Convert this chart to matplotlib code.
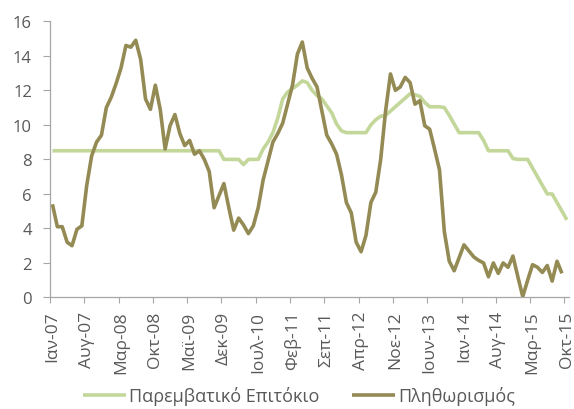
import matplotlib
matplotlib.use('Agg')
import matplotlib.pyplot as plt
from matplotlib.ticker import FixedLocator

plt.rcParams['font.family'] = ['Open Sans', 'DejaVu Sans']

# ---- data (monthly, Jan-07 .. Oct-15) ----
tick_labels = ['Ιαν-07', 'Αυγ-07', 'Μαρ-08', 'Οκτ-08', 'Μαϊ-09', 'Δεκ-09',
               'Ιουλ-10', 'Φεβ-11', 'Σεπ-11', 'Απρ-12', 'Νοε-12', 'Ιουν-13',
               'Ιαν-14', 'Αυγ-14', 'Μαρ-15', 'Οκτ-15']

rate = [8.5, 8.5, 8.5, 8.5, 8.5, 8.5, 8.5, 8.5, 8.5, 8.5,
        8.5, 8.5, 8.5, 8.5, 8.5, 8.5, 8.5, 8.5, 8.5, 8.5,
        8.5, 8.5, 8.5, 8.5, 8.5, 8.5, 8.5, 8.5, 8.5, 8.5,
        8.5, 8.5, 8.5, 8.5, 8.5, 8.0, 8.0, 8.0, 8.0, 7.7,
        8.0, 8.0, 8.0, 8.6, 9.0, 9.55, 10.4, 11.5, 11.9, 12.1,
        12.3, 12.55, 12.45, 12.0, 11.7, 11.5, 11.1, 10.7, 10.05, 9.65,
        9.55, 9.55, 9.55, 9.55, 9.55, 10.0, 10.3, 10.5, 10.55, 10.8,
        11.05, 11.3, 11.55, 11.8, 11.75, 11.65, 11.3, 11.05, 11.05, 11.05,
        11.0, 10.55, 10.05, 9.55, 9.55, 9.55, 9.55, 9.55, 9.1, 8.5,
        8.5, 8.5, 8.5, 8.5, 8.05, 8.0, 8.0, 8.0, 7.5, 7.0,
        6.5, 6.0, 6.0, 5.5, 5.0, 4.5]

inflation = [5.4, 4.1, 4.1, 3.2, 3.0, 3.95, 4.15, 6.5, 8.2, 9.0,
             9.4, 11.0, 11.6, 12.4, 13.3, 14.6, 14.5, 14.9, 13.8, 11.5,
             10.9, 12.3, 10.9, 8.6, 9.95, 10.6, 9.5, 8.8, 9.1, 8.3,
             8.5, 8.0, 7.3, 5.2, 5.9, 6.6, 5.2, 3.9, 4.6, 4.2,
             3.7, 4.15, 5.2, 6.8, 7.9, 9.0, 9.5, 10.1, 11.2, 12.3,
             14.1, 14.8, 13.3, 12.7, 12.2, 10.8, 9.4, 8.9, 8.3, 7.1,
             5.5, 4.9, 3.2, 2.65, 3.6, 5.5, 6.1, 8.0, 10.8, 12.95,
             12.0, 12.2, 12.75, 12.45, 11.2, 11.4, 9.95, 9.75, 8.6, 7.4,
             3.8, 2.1, 1.55, 2.3, 3.05, 2.7, 2.35, 2.15, 2.0, 1.2,
             2.0, 1.4, 2.0, 1.75, 2.4, 1.2, 0.05, 1.0, 1.9, 1.75,
             1.45, 1.85, 0.95, 2.1, 1.4]

label_rate = 'Παρεμβατικό Επιτόκιο'
label_infl = 'Πληθωρισμός'

# ---- style ----
c_rate = '#c4d79b'
c_infl = '#948a54'
c_axis = '#a6a6a6'
c_text = '#595959'

fig = plt.figure(figsize=(5.74, 4.10), dpi=100)
ax = fig.add_axes([0.0871, 0.272, 0.9047, 0.6736])

l1, = ax.plot(range(len(rate)), rate, color=c_rate, lw=2.6,
              solid_joinstyle='round', solid_capstyle='butt', label=label_rate)
l2, = ax.plot(range(len(inflation)), inflation, color=c_infl, lw=2.6,
              solid_joinstyle='round', solid_capstyle='butt', label=label_infl)

n = len(rate)
ax.set_xlim(-0.5, n - 0.5)
ax.set_ylim(0, 16)

ax.set_yticks(range(0, 17, 2))
ax.tick_params(axis='y', direction='out', length=5, width=0.8, color=c_axis,
               labelsize=12, labelcolor=c_text, pad=8)

label_pos = [7 * k for k in range(len(tick_labels))]
ax.set_xticks(label_pos)
ax.set_xticklabels(tick_labels, rotation=90, ha='center', va='top')
ax.xaxis.set_minor_locator(FixedLocator([p - 0.5 for p in label_pos]))
ax.tick_params(axis='x', which='major', length=0, labelsize=12.5,
               labelcolor=c_text, pad=9.5)
ax.tick_params(axis='x', which='minor', direction='out', length=4, width=0.8,
               color=c_axis)

for s in ['top', 'right']:
    ax.spines[s].set_visible(False)
for s in ['left', 'bottom']:
    ax.spines[s].set_color(c_axis)
    ax.spines[s].set_linewidth(0.9)

leg = fig.legend(handles=[l1, l2], loc='center', bbox_to_anchor=(0.521, 0.033),
                 ncol=2, frameon=False, fontsize=13, handlelength=2.4,
                 handletextpad=0.15, columnspacing=1.8)
for t in leg.get_texts():
    t.set_color(c_text)

fig.savefig('out.png', dpi=100)
